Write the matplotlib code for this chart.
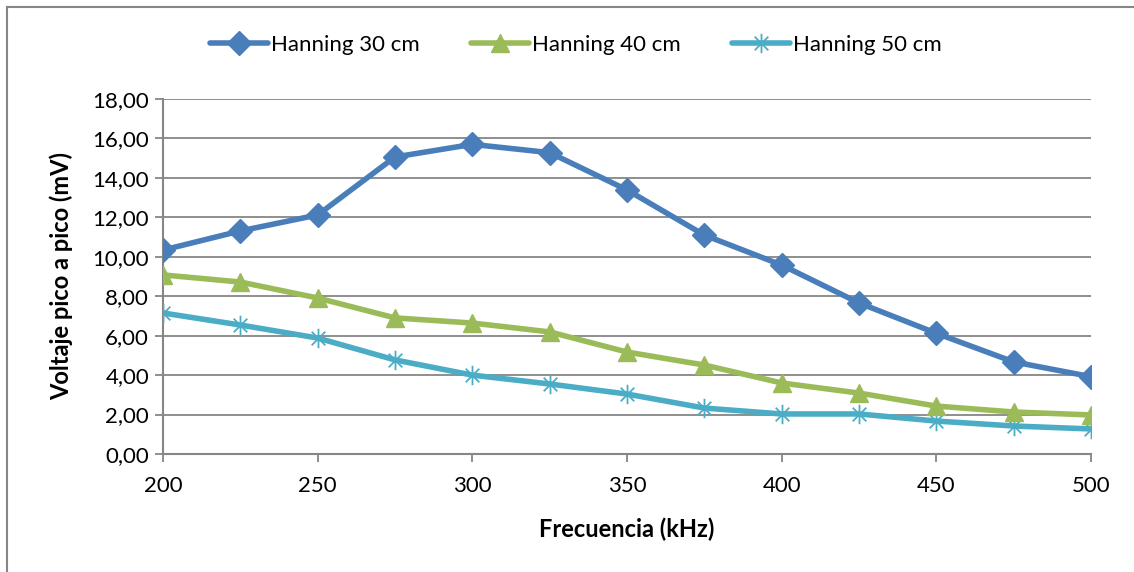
import matplotlib
matplotlib.use("Agg")
import matplotlib.pyplot as plt
from matplotlib.path import Path
from matplotlib.ticker import FuncFormatter, MultipleLocator
from matplotlib.lines import Line2D

plt.rcParams['font.family'] = ['Lato', 'DejaVu Sans']

# Frequency sweep (kHz) and measured peak-to-peak voltage (mV)
frecuencia = [200, 225, 250, 275, 300, 325, 350, 375, 400, 425, 450, 475, 500]
hanning_30 = [10.34, 11.31, 12.12, 15.06, 15.70, 15.28, 13.39, 11.10, 9.58, 7.66, 6.12, 4.67, 3.92]
hanning_40 = [9.08, 8.72, 7.91, 6.90, 6.64, 6.19, 5.17, 4.51, 3.60, 3.09, 2.43, 2.13, 1.98]
hanning_50 = [7.15, 6.54, 5.88, 4.77, 4.00, 3.55, 3.04, 2.33, 2.03, 2.03, 1.67, 1.42, 1.27]

series_names = ["Hanning 30 cm", "Hanning 40 cm", "Hanning 50 cm"]
x_ticks = [200, 250, 300, 350, 400, 450, 500]

# Asterisk marker: vertical stroke plus an X
ast = Path(
    [(0, -1), (0, 1), (-0.7, -0.7), (0.7, 0.7), (-0.7, 0.7), (0.7, -0.7)],
    [Path.MOVETO, Path.LINETO, Path.MOVETO, Path.LINETO, Path.MOVETO, Path.LINETO],
)

fig = plt.figure(figsize=(11.34, 5.72), dpi=100)
ax = fig.add_axes([163 / 1134, 1 - 454 / 572, (1091 - 163) / 1134, (454 - 99) / 572])

grid_c = "#868686"
blue, green, cyan = "#4A7EBB", "#9BBB59", "#4BACC6"

ax.plot(frecuencia, hanning_30, color=blue, lw=4.0, marker="D", ms=12.5,
        mfc=blue, mec=blue, label=series_names[0], zorder=5, solid_capstyle="round")
ax.plot(frecuencia, hanning_40, color=green, lw=4.0, marker="^", ms=13,
        mfc=green, mec=green, label=series_names[1], zorder=4, solid_capstyle="round")
ax.plot(frecuencia, hanning_50, color=cyan, lw=4.0, marker=ast, ms=14,
        mfc="none", mec=cyan, mew=1.3, label=series_names[2], zorder=3, solid_capstyle="round")

ax.set_xlim(200, 500)
ax.set_ylim(0, 18)
ax.set_xticks(x_ticks)
ax.yaxis.set_major_locator(MultipleLocator(2))
ax.yaxis.set_major_formatter(FuncFormatter(lambda v, p: f"{v:.2f}".replace(".", ",")))

ax.grid(axis="y", color=grid_c, lw=1.3)
ax.set_axisbelow(True)
for s in ("top", "right"):
    ax.spines[s].set_visible(False)
for s in ("left", "bottom"):
    ax.spines[s].set_color(grid_c)
    ax.spines[s].set_linewidth(1.5)
ax.tick_params(axis="both", colors=grid_c, length=6, width=1.3, labelsize=16,
               labelcolor="black")
ax.tick_params(axis="x", pad=10)
ax.tick_params(axis="y", pad=4)

ax.set_xlabel("Frecuencia (kHz)", fontsize=17, fontweight="bold", labelpad=15)
ax.set_ylabel("Voltaje pico a pico (mV)", fontsize=17, fontweight="bold", labelpad=14)

leg = fig.legend(loc="center", bbox_to_anchor=(576 / 1134, 1 - 45 / 572), ncol=3,
                 frameon=False, fontsize=16, handlelength=2.6,
                 handletextpad=0.15, columnspacing=2.3)

# Outer chart frame
fig.add_artist(Line2D([6.5 / 1134, 1], [1 - 6.5 / 572, 1 - 6.5 / 572],
                      color=grid_c, lw=1.5, transform=fig.transFigure))
fig.add_artist(Line2D([6.5 / 1134, 6.5 / 1134], [0, 1 - 6.5 / 572],
                      color=grid_c, lw=1.5, transform=fig.transFigure))

fig.savefig("out.png", dpi=100, facecolor="white")
